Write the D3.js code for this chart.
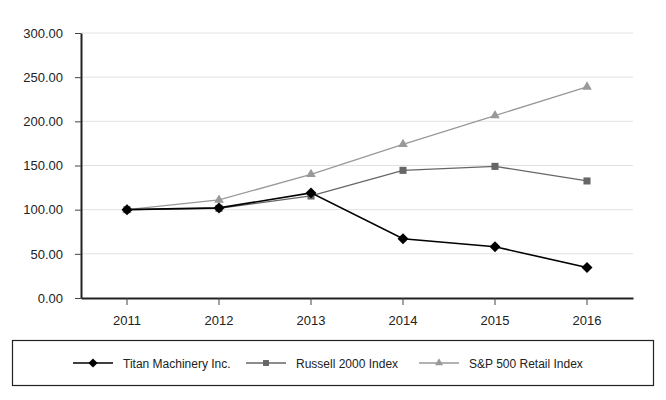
<!DOCTYPE html>
<html><head><meta charset="utf-8">
<script src="https://cdn.jsdelivr.net/npm/d3@7"></script>
<style>body{margin:0;background:#fff}svg{display:block;font-family:"Liberation Sans",Arial,sans-serif}</style>
</head><body><svg id="c" width="666" height="400"></svg>
<script>
const years = ["2011","2012","2013","2014","2015","2016"];
const titan = [100, 102, 119, 67, 58, 34.5];
const russell = [100, 101.5, 115.5, 144.5, 149, 132.5];
const sp500 = [100, 111, 140, 174, 206.5, 239];
const yTicks = [0, 50, 100, 150, 200, 250, 300];
const seriesNames = ["Titan Machinery Inc.", "Russell 2000 Index", "S&P 500 Retail Index"];

const series = [
  {name: seriesNames[0], values: titan, color: "#000", marker: "diamond", size: 60},
  {name: seriesNames[1], values: russell, color: "#666", marker: "square", size: 50},
  {name: seriesNames[2], values: sp500, color: "#999", marker: "triangle", size: 40}
];

const svg = d3.select("#c");
const L = 81, R = 633, T = 33, B = 298;
const x = d3.scaleBand().domain(years).range([L, R]);
const y = d3.scaleLinear().domain([0, 300]).range([B, T]);

// grid
svg.append("g").selectAll("line").data(yTicks.slice(1)).join("line")
  .attr("x1", L).attr("x2", R).attr("y1", d => y(d)).attr("y2", d => y(d))
  .attr("stroke", "#e2e2e2").attr("stroke-width", 1);

// y axis
const ya = svg.append("g").attr("transform", `translate(${L},0)`)
  .call(d3.axisLeft(y).tickValues(yTicks).tickFormat(d3.format(".2f")).tickSize(6).tickSizeOuter(0));
ya.select(".domain").attr("stroke", "#222").attr("stroke-width", 2);
ya.selectAll(".tick line").attr("stroke", "#444");
ya.selectAll("text").attr("font-size", 13).attr("fill", "#222").attr("x", -18).attr("font-family", "Liberation Sans, Arial, sans-serif");

// x axis
const xa = svg.append("g").attr("transform", `translate(0,${B})`)
  .call(d3.axisBottom(x).tickSize(7).tickSizeOuter(0));
xa.select(".domain").attr("stroke", "#222").attr("stroke-width", 2);
xa.selectAll(".tick line").attr("stroke", "#444");
xa.selectAll("text").attr("font-size", 13).attr("fill", "#222").attr("dy", "1.3em").attr("font-family", "Liberation Sans, Arial, sans-serif");

const symType = {diamond: d3.symbolSquare, square: d3.symbolSquare, triangle: d3.symbolTriangle};
function sym(s, size) {
  return d3.symbol().type(symType[s.marker]).size(size)();
}
const cx = d => x(d) + x.bandwidth() / 2;
const line = d3.line().x((d, i) => cx(years[i])).y(d => y(d));

// draw S&P first, then Russell, then Titan on top
[...series].reverse().forEach(s => {
  const g = svg.append("g");
  g.append("path").attr("d", line(s.values)).attr("fill", "none").attr("stroke", s.color).attr("stroke-width", s.marker === "diamond" ? 1.6 : 1.3);
  g.selectAll("path.m").data(s.values).join("path").attr("class", "m")
    .attr("d", sym(s, s.size))
    .attr("transform", (d, i) => `translate(${cx(years[i])},${y(d)})` + (s.marker === "diamond" ? " rotate(45)" : ""))
    .attr("fill", s.color);
});

// legend
svg.append("rect").attr("x", 12.5).attr("y", 340.5).attr("width", 641).attr("height", 45)
  .attr("fill", "none").attr("stroke", "#222").attr("stroke-width", 1.2);
const legX = [73, 246, 419];
const lg = svg.append("g");
series.forEach((s, i) => {
  const g = lg.append("g").attr("transform", `translate(${legX[i]},363)`);
  g.append("line").attr("x1", 0).attr("x2", 40).attr("stroke", s.color).attr("stroke-width", 1.6);
  g.append("path").attr("d", sym(s, s.size * 0.7))
    .attr("transform", `translate(20,0)` + (s.marker === "diamond" ? " rotate(45)" : "")).attr("fill", s.color);
  g.append("text").attr("x", 50).attr("y", 4.5).attr("font-size", 12).attr("fill", "#222").text(s.name);
});
</script></body></html>
